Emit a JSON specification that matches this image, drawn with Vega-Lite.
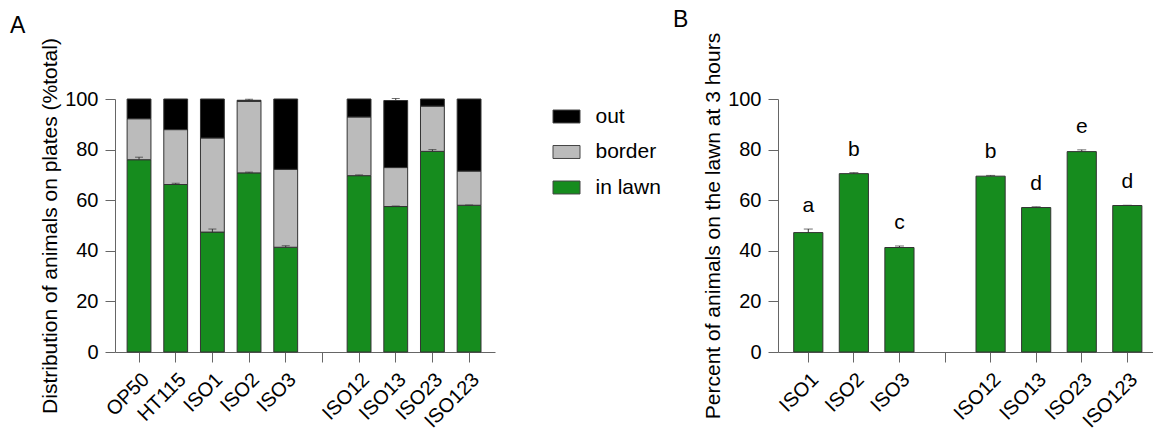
{
  "$schema": "https://vega.github.io/schema/vega-lite/v6.json",
  "padding": {"left": 10, "top": 9, "right": 0, "bottom": 0},
  "background": "white",
  "datasets": {
    "stackA": [
      {"strain": "OP50", "zone": "in lawn", "lo": 0, "hi": 76.0},
      {"strain": "OP50", "zone": "border", "lo": 76.0, "hi": 92.2},
      {"strain": "OP50", "zone": "out", "lo": 92.2, "hi": 100},
      {"strain": "HT115", "zone": "in lawn", "lo": 0, "hi": 66.2},
      {"strain": "HT115", "zone": "border", "lo": 66.2, "hi": 87.9},
      {"strain": "HT115", "zone": "out", "lo": 87.9, "hi": 100},
      {"strain": "ISO1", "zone": "in lawn", "lo": 0, "hi": 47.4},
      {"strain": "ISO1", "zone": "border", "lo": 47.4, "hi": 84.6},
      {"strain": "ISO1", "zone": "out", "lo": 84.6, "hi": 100},
      {"strain": "ISO2", "zone": "in lawn", "lo": 0, "hi": 70.8},
      {"strain": "ISO2", "zone": "border", "lo": 70.8, "hi": 99.1},
      {"strain": "ISO2", "zone": "out", "lo": 99.1, "hi": 99.5},
      {"strain": "ISO3", "zone": "in lawn", "lo": 0, "hi": 41.4},
      {"strain": "ISO3", "zone": "border", "lo": 41.4, "hi": 72.2},
      {"strain": "ISO3", "zone": "out", "lo": 72.2, "hi": 100},
      {"strain": "ISO12", "zone": "in lawn", "lo": 0, "hi": 69.7},
      {"strain": "ISO12", "zone": "border", "lo": 69.7, "hi": 92.9},
      {"strain": "ISO12", "zone": "out", "lo": 92.9, "hi": 100},
      {"strain": "ISO13", "zone": "in lawn", "lo": 0, "hi": 57.5},
      {"strain": "ISO13", "zone": "border", "lo": 57.5, "hi": 72.9},
      {"strain": "ISO13", "zone": "out", "lo": 72.9, "hi": 99.4},
      {"strain": "ISO23", "zone": "in lawn", "lo": 0, "hi": 79.3},
      {"strain": "ISO23", "zone": "border", "lo": 79.3, "hi": 97.2},
      {"strain": "ISO23", "zone": "out", "lo": 97.2, "hi": 100},
      {"strain": "ISO123", "zone": "in lawn", "lo": 0, "hi": 58.0},
      {"strain": "ISO123", "zone": "border", "lo": 58.0, "hi": 71.5},
      {"strain": "ISO123", "zone": "out", "lo": 71.5, "hi": 100}
    ],
    "errA": [
      {"strain": "OP50", "lo": 76.0, "hi": 77.0},
      {"strain": "HT115", "lo": 66.2, "hi": 66.7},
      {"strain": "ISO1", "lo": 47.4, "hi": 48.6},
      {"strain": "ISO2", "lo": 70.8, "hi": 71.1},
      {"strain": "ISO2", "lo": 99.5, "hi": 99.9},
      {"strain": "ISO3", "lo": 41.4, "hi": 42.0},
      {"strain": "ISO12", "lo": 69.7, "hi": 70.0},
      {"strain": "ISO13", "lo": 57.5, "hi": 57.7},
      {"strain": "ISO13", "lo": 99.4, "hi": 100.2},
      {"strain": "ISO23", "lo": 79.3, "hi": 80.0},
      {"strain": "ISO123", "lo": 58.0, "hi": 58.1}
    ],
    "panelB": [
      {"strain": "ISO1", "pct": 47.2, "hi": 48.6, "group": "a"},
      {"strain": "ISO2", "pct": 70.5, "hi": 70.9, "group": "b"},
      {"strain": "ISO3", "pct": 41.3, "hi": 41.9, "group": "c"},
      {"strain": "ISO12", "pct": 69.5, "hi": 69.8, "group": "b"},
      {"strain": "ISO13", "pct": 57.1, "hi": 57.4, "group": "d"},
      {"strain": "ISO23", "pct": 79.2, "hi": 79.9, "group": "e"},
      {"strain": "ISO123", "pct": 57.9, "hi": 58.0, "group": "d"}
    ]
  },
  "hconcat": [
    {
      "title": {"text": "A", "anchor": "start", "frame": "group", "dx": -105, "fontSize": 23, "fontWeight": "normal", "font": "Liberation Sans", "offset": 0},
      "width": 380,
      "height": 253,
      "layer": [
        {
          "data": {"name": "stackA"},
          "mark": {"type": "bar", "stroke": "#333", "strokeWidth": 1},
          "encoding": {
            "x": {"field": "strain", "type": "nominal",
                  "scale": {"domain": ["OP50", "HT115", "ISO1", "ISO2", "ISO3", " ", "ISO12", "ISO13", "ISO23", "ISO123"], "paddingInner": 0.35, "paddingOuter": 0.356, "align": 0.464},
                  "axis": {"title": null, "labelAngle": -45}},
            "y": {"field": "hi", "type": "quantitative",
                  "scale": {"domain": [0, 100], "nice": false},
                  "axis": {"title": "Distribution of animals on plates (%total)", "values": [0, 20, 40, 60, 80, 100]}},
            "y2": {"field": "lo"},
            "color": {"field": "zone", "type": "nominal",
                      "scale": {"domain": ["out", "border", "in lawn"], "range": ["#000000", "#bbbbbb", "#168c1e"]},
                      "legend": {"title": null, "offset": 53.5, "padding": 3.5}}
          }
        },
        {
          "data": {"name": "errA"},
          "mark": {"type": "rule", "color": "#333", "strokeWidth": 1},
          "encoding": {
            "x": {"field": "strain", "type": "nominal"},
            "y": {"field": "lo", "type": "quantitative"},
            "y2": {"field": "hi"}
          }
        },
        {
          "data": {"name": "errA"},
          "mark": {"type": "tick", "color": "#333", "thickness": 1, "size": 8},
          "encoding": {
            "x": {"field": "strain", "type": "nominal"},
            "y": {"field": "hi", "type": "quantitative"}
          }
        }
      ]
    },
    {
      "title": {"text": "B", "anchor": "start", "frame": "group", "dx": -105, "fontSize": 23, "fontWeight": "normal", "font": "Liberation Sans", "offset": 0},
      "width": 375,
      "height": 253,
      "data": {"name": "panelB"},
      "layer": [
        {
          "mark": {"type": "bar", "color": "#168c1e", "stroke": "#333", "strokeWidth": 1},
          "encoding": {
            "x": {"field": "strain", "type": "nominal",
                  "scale": {"domain": ["ISO1", "ISO2", "ISO3", " ", "ISO12", "ISO13", "ISO23", "ISO123"], "paddingInner": 0.36, "paddingOuter": 0.294, "align": 0.586},
                  "axis": {"title": null, "labelAngle": -45}},
            "y": {"field": "pct", "type": "quantitative",
                  "scale": {"domain": [0, 100], "nice": false},
                  "axis": {"title": "Percent of animals on the lawn at 3 hours", "values": [0, 20, 40, 60, 80, 100]}}
          }
        },
        {
          "mark": {"type": "rule", "color": "#333", "strokeWidth": 1},
          "encoding": {
            "x": {"field": "strain", "type": "nominal"},
            "y": {"field": "pct", "type": "quantitative"},
            "y2": {"field": "hi"}
          }
        },
        {
          "mark": {"type": "tick", "color": "#333", "thickness": 1, "size": 9},
          "encoding": {
            "x": {"field": "strain", "type": "nominal"},
            "y": {"field": "hi", "type": "quantitative"}
          }
        },
        {
          "mark": {"type": "text", "baseline": "alphabetic", "dy": -17, "fontSize": 21, "font": "Liberation Sans", "color": "#000"},
          "encoding": {
            "x": {"field": "strain", "type": "nominal"},
            "y": {"field": "hi", "type": "quantitative"},
            "text": {"field": "group"}
          }
        }
      ]
    }
  ],
  "resolve": {"scale": {"color": "independent"}, "legend": {"color": "independent"}},
  "spacing": 8,
  "config": {
    "view": {"stroke": null},
    "axis": {"domainColor": "#666", "tickColor": "#666", "labelColor": "#000", "titleColor": "#000",
             "labelFont": "Liberation Sans", "titleFont": "Liberation Sans", "labelFontSize": 20, "titleFontSize": 21,
             "titleFontWeight": "normal", "grid": false, "tickSize": 10, "labelPadding": 7, "titlePadding": 4},
    "legend": {"labelFont": "Liberation Sans", "labelFontSize": 21, "labelColor": "#000",
               "symbolType": "M-1,-0.48H1V0.48H-1Z", "symbolSize": 729, "symbolStrokeColor": "#444", "symbolStrokeWidth": 1,
               "symbolOpacity": 1, "labelOffset": 15, "rowPadding": 11.5}
  }
}
